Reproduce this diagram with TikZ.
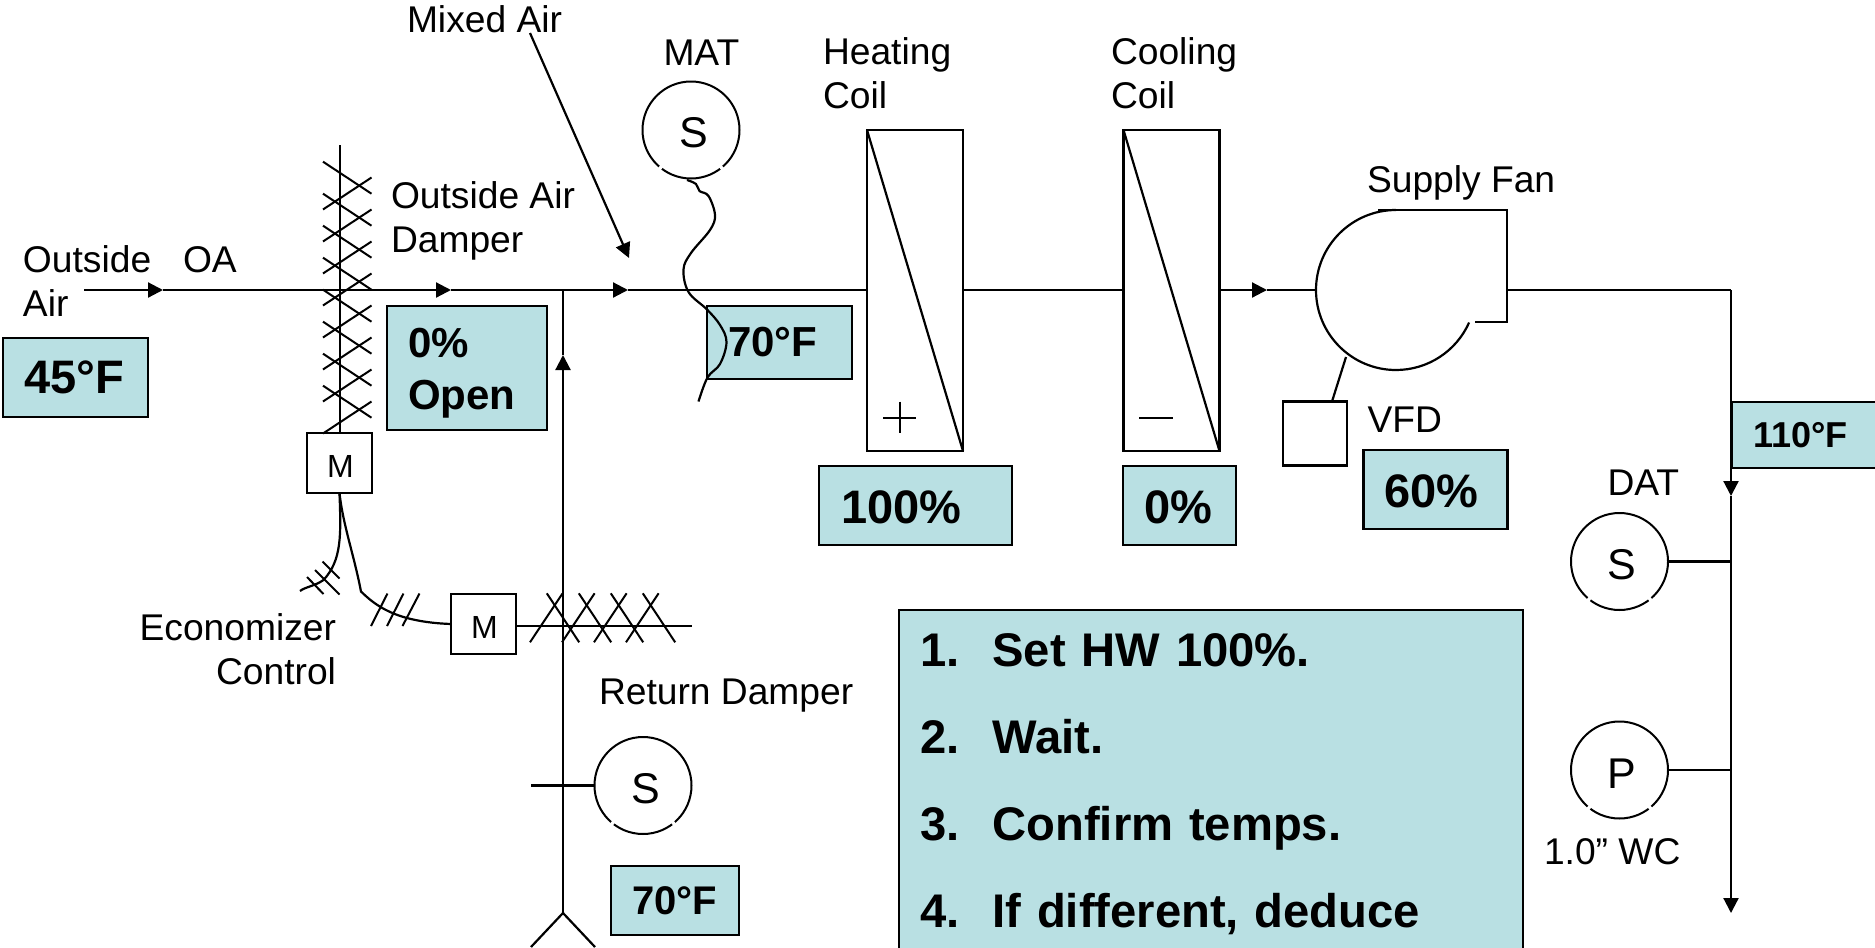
\documentclass[tikz,border=0pt]{standalone}
\usepackage{fontspec}
\setmainfont{Liberation Sans}
\usetikzlibrary{arrows.meta}
\definecolor{boxfill}{HTML}{B9E0E3}
\newcommand{\vfont}[1]{\fontsize{#1}{52}\selectfont\bfseries}
\newcommand{\nudge}{\rule{0pt}{37pt}}
\begin{document}
\begin{tikzpicture}[x=1pt, y=-1pt, line width=2.2pt, >={Triangle[length=15pt,width=15pt]},
    lbl/.style={font=\fontsize{37.2}{43.5}\selectfont, inner sep=0, outer sep=0, align=left, anchor=base west},
    valuebox/.style n args={3}{draw, line width=2.8pt, fill=boxfill, anchor=north west, inner xsep=#1pt, inner ysep=0, outer sep=0, text width=#2pt, align=left, minimum height=#3pt},
    sensor/.style={draw, line width=2pt, circle, minimum size=97pt, inner sep=0, outer sep=0, font=\fontsize{43}{43}\selectfont, execute at begin node={\rule{0pt}{36pt}\kern5pt}},
    motor/.style={draw, minimum width=65pt, minimum height=60pt, inner sep=0, outer sep=0, font=\fontsize{32}{32}\selectfont, execute at begin node={\rule{0pt}{28pt}\kern2pt}},
    coil/.style={draw, minimum width=96pt, minimum height=321pt, inner sep=0, outer sep=0}]
  \useasboundingbox (0, 0) rectangle (1875, 948);
  \coordinate (oaIn) at (84, 290);
  \coordinate (oaTip) at (163, 290);
  \coordinate (daTip) at (451, 290);
  \coordinate (maTip) at (628, 290);
  \coordinate (maJoin) at (563, 290);
  \coordinate (raTip) at (563, 355);
  \coordinate (raFork) at (563, 913);
  \coordinate (raLeft) at (531, 947);
  \coordinate (raRight) at (595, 947);
  \coordinate (raProbe) at (531, 785.5);
  \coordinate (mixFrom) at (530, 33);
  \coordinate (mixTo) at (629, 258);
  \coordinate (fanTip) at (1267, 290);
  \coordinate (fanIn) at (1316, 290);
  \coordinate (fanOut) at (1507, 290);
  \coordinate (fanLeg) at (1346, 357);
  \coordinate (vfdTop) at (1332, 401.5);
  \coordinate (saCorner) at (1731, 290);
  \coordinate (saTip) at (1731, 496);
  \coordinate (saEnd) at (1731, 913);
  \coordinate (oaDamperTop) at (339.5, 145);
  \coordinate (raDamperEnd) at (692, 625.5);

  \node[coil] (hc) at (915, 290.5) {};
  \node[coil] (cc) at (1171.5, 290.5) {};
  \draw (hc.north west) -- (hc.south east);
  \draw (cc.north west) -- (cc.south east);
  \draw[line width=2pt] (883, 417.5) -- (916, 417.5);
  \draw[line width=2pt] (899.5, 401.5) -- (899.5, 433);
  \draw[line width=2pt] (1139, 417.5) -- (1173, 417.5);

  \draw[->] (oaIn) -- (oaTip);
  \draw[->] (oaTip) -- (daTip);
  \draw[->] (daTip) -- (maTip);
  \draw (maTip) -- (maTip -| hc.west);
  \draw (maJoin) -- (raTip);
  \draw[<-] (raTip) -- (raFork);
  \draw (raLeft) -- (raFork) -- (raRight);
  \draw[->] (mixFrom) -- (mixTo);
  \draw (hc.east |- oaIn) -- (cc.west |- oaIn);
  \draw[->] (cc.east |- oaIn) -- (fanTip);
  \draw (fanTip) -- (fanIn);
  \draw (1378, 210) -- (1507, 210) -- (1507, 322) -- (1475, 322);
  \draw (1396, 210) arc [start angle=-90, end angle=-336, radius=80];
  \draw (fanOut) -- (saCorner);
  \draw[->] (saCorner) -- (saTip);
  \draw[->] (saTip) -- (saEnd);

  \node[motor] (oaMotor) at (339.5, 463) {M};
  \node[motor] (raMotor) at (483.5, 624) {M};
  \node[draw, minimum width=64.5pt, minimum height=64pt, inner sep=0, outer sep=0] (vfd) at (1315, 433.5) {};
  \draw (fanLeg) -- (vfdTop);
  \draw[line width=2pt] (oaDamperTop) -- (oaMotor.north);
  \draw[line width=2pt] (raMotor.east |- raDamperEnd) -- (raDamperEnd);
  \foreach \i in {0,...,7} {
    \draw[line width=2pt] (323, {161.7+32*\i}) -- (371.5, {193.7+32*\i});
    \draw[line width=2pt] (371.5, {177.5+32*\i}) -- (323, {209.5+32*\i});
  }
  \foreach \i in {0,...,3} {
    \draw[line width=2pt] ({530+32*\i}, 642.3) -- ({562.6+32*\i}, 593.3);
    \draw[line width=2pt] ({546.8+32*\i}, 593.3) -- ({579.2+32*\i}, 642.3);
  }

  \draw (oaMotor.south) .. controls (341, 535) and (342, 560) .. (323.5, 580) .. controls (315, 586) and (305, 587) .. (300, 591);
  \draw (oaMotor.south) .. controls (343, 525) and (354, 555) .. (361, 591.5) .. controls (375, 605) and (395, 622) .. (raMotor.west);
  \draw[line width=2pt] (307, 577) -- (323.5, 594);
  \draw[line width=2pt] (315, 570) -- (339.5, 594.5);
  \draw[line width=2pt] (322.5, 561.5) -- (339.5, 578.5);
  \draw[line width=2pt] (371, 626) -- (387.5, 593.5);
  \draw[line width=2pt] (387, 626) -- (403.5, 593.5);
  \draw[line width=2pt] (402.5, 626) -- (419.5, 593.5);

  \node[sensor] (matS) at (691, 130) {S};
  \node[sensor] (raS) at (643, 785.5) {S};
  \node[sensor] (datS) at (1619.5, 561.5) {S};
  \node[sensor] (prP) at (1619.5, 770) {P};
  \foreach \s in {matS, raS, datS, prP} {
    \draw[white, line width=5pt] (\s.-131) -- (\s.-127);
    \draw[white, line width=5pt] (\s.-53) -- (\s.-49);
  }
  \draw (raProbe) -- (raS.west);
  \draw (datS.east) -- (saCorner |- datS.east);
  \draw (prP.east) -- (saCorner |- prP.east);

  \node[valuebox={21.5}{102}{79}, font=\vfont{47}] (oaVal) at (3, 338) {45°F};
  \node[valuebox={21}{118}{124}, font=\vfont{42}] (daVal) at (387, 306) {\rule{0pt}{40pt}0\%\\Open};
  \node[valuebox={21}{103}{73}, font=\vfont{42}] (matVal) at (707, 306) {70°F};
  \node[valuebox={22}{149}{79}, font=\vfont{47}] (hcVal) at (819, 466) {\nudge 100\%};
  \node[valuebox={21.5}{70}{79}, font=\vfont{47}] (ccVal) at (1123, 466) {\nudge 0\%};
  \node[valuebox={21}{102}{79}, font=\vfont{47}] (vfdVal) at (1363.5, 450) {\nudge 60\%};
  \node[valuebox={21}{104}{66}, font=\vfont{36}] (saVal) at (1732, 402) {110°F};
  \node[valuebox={21}{86}{69}, font=\vfont{40}] (raVal) at (611, 866) {70°F};
  \node[draw, line width=2.8pt, fill=boxfill, anchor=north west, inner xsep=21pt, inner ysep=24pt, outer sep=0, text width=582pt, align=left, font=\fontsize{47.2}{87}\selectfont\bfseries] (steps) at (899, 610) {\makebox[72.5pt][l]{1.}Set HW 100\%.\\\makebox[72.5pt][l]{2.}Wait.\\\makebox[72.5pt][l]{3.}Confirm temps.\\\makebox[72.5pt][l]{4.}If different, deduce};

  \draw plot[smooth, tension=0.6] coordinates {(687, 180) (696, 184) (699.5, 191) (708.5, 196) (715, 215) (710, 230) (691, 253) (683.5, 269.5) (688.5, 292) (707, 309.5) (720, 325) (726.5, 342) (720, 364) (707.5, 377.5) (698.5, 401.5)};

  \node[lbl] (mixLbl) at (407, 32) {Mixed Air};
  \node[lbl] (oaLbl) at (23, 316) {Outside\\Air};
  \node[lbl] (oaShort) at (183, 272.5) {OA};
  \node[lbl] (daLbl) at (391, 252) {Outside Air\\Damper};
  \node[lbl] (matLbl) at (663.5, 65) {MAT};
  \node[lbl] (hcLbl) at (823, 108) {Heating\\Coil};
  \node[lbl] (ccLbl) at (1111, 108) {Cooling\\Coil};
  \node[lbl] (fanLbl) at (1367, 192.5) {Supply Fan};
  \node[lbl] (vfdLbl) at (1367.5, 432) {VFD};
  \node[lbl] (datLbl) at (1607.5, 495.5) {DAT};
  \node[lbl] (wcLbl) at (1544, 864) {1.0” WC};
  \node[lbl] (raLbl) at (599, 704) {Return Damper};
  \node[lbl, align=right, anchor=base east] (ecoLbl) at (336, 684) {Economizer\\Control};
\end{tikzpicture}
\end{document}
